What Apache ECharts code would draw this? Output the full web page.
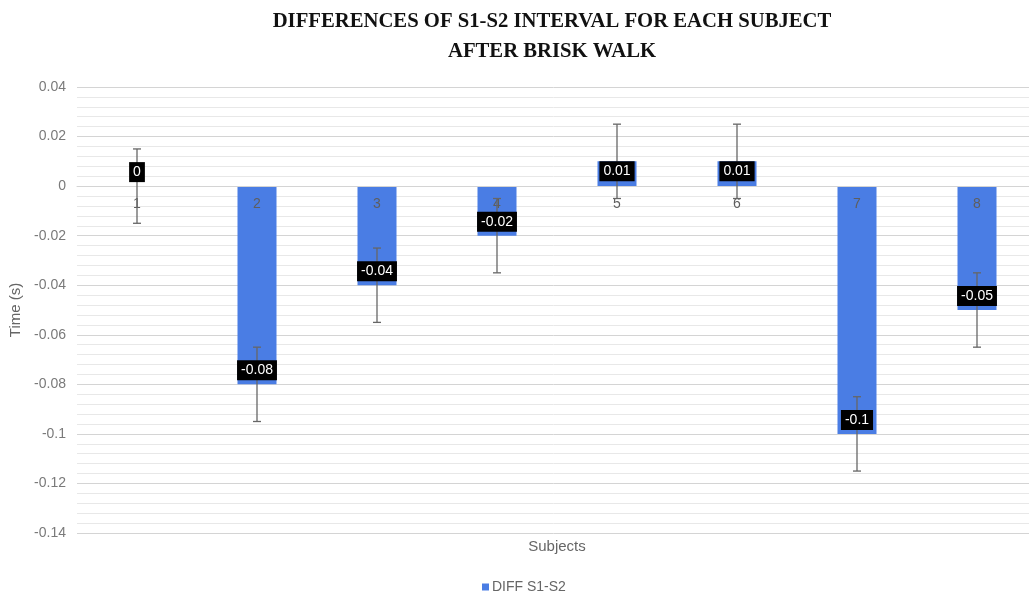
<!DOCTYPE html>
<html>
<head>
<meta charset="utf-8">
<script src="https://cdn.jsdelivr.net/npm/echarts@6/dist/echarts.min.js"></script>
<style>
  html, body { margin: 0; padding: 0; background: #fff; }
  #chart { width: 1029px; height: 594px; }
</style>
</head>
<body>
<div id="chart"></div>
<script>
const subjects = ['1', '2', '3', '4', '5', '6', '7', '8'];
const diffValues = [0, -0.08, -0.04, -0.02, 0.01, 0.01, -0.1, -0.05];
const errorValues = [0.015, 0.015, 0.015, 0.015, 0.015, 0.015, 0.015, 0.015];

const BAR_COLOR = '#4a7de4';
const AXIS_GRAY = '#7a7a7a';

// Excel-style "inside end" labels; a zero bar gets its label just above the axis
const labelFor = (value) => {
  if (value < 0) return { position: 'insideBottom', distance: 4 };
  if (value > 0) return { position: 'insideTop', distance: 0 };
  return { position: 'top', distance: 4 };
};

const chart = echarts.init(document.getElementById('chart'));
chart.setOption({
  backgroundColor: '#fff',
  animation: false,
  title: {
    text: 'DIFFERENCES OF S1-S2 INTERVAL FOR EACH SUBJECT\nAFTER BRISK WALK',
    left: 547,
    textAlign: 'center',
    top: 2,
    textStyle: {
      fontFamily: 'Liberation Serif',
      fontWeight: 'bold',
      fontSize: 20.7,
      color: '#111',
      lineHeight: 30,
    },
  },
  legend: {
    bottom: 0,
    left: 482,
    padding: 0,
    itemWidth: 7,
    itemHeight: 7,
    itemGap: 3,
    icon: 'rect',
    textStyle: { color: '#666', fontSize: 14, fontFamily: 'Liberation Sans', padding: [0, 0, 0, -2] },
    data: ['DIFF S1-S2'],
  },
  grid: { left: 77, top: 87, width: 960, height: 446, containLabel: false, outerBoundsMode: 'none' },
  xAxis: {
    type: 'category',
    data: subjects,
    // the axis sits at y = 0, like the Excel original
    offset: -347,
    name: 'Subjects',
    nameLocation: 'middle',
    nameGap: 353,
    nameTextStyle: { color: '#666', fontSize: 15, fontFamily: 'Liberation Sans' },
    axisLine: { onZero: false, lineStyle: { color: '#d4d4d4' } },
    axisTick: { show: false },
    axisLabel: { color: '#5e5e5e', fontSize: 14, margin: 11, fontFamily: 'Liberation Sans' },
    z: 3,
  },
  yAxis: {
    type: 'value',
    name: 'Time (s)',
    nameLocation: 'middle',
    nameGap: 52,
    nameTextStyle: { color: '#666', fontSize: 15, fontFamily: 'Liberation Sans' },
    min: -0.14,
    max: 0.04,
    interval: 0.02,
    axisLine: { show: false },
    axisTick: { show: false },
    axisLabel: {
      color: AXIS_GRAY,
      fontSize: 14,
      margin: 11,
      fontFamily: 'Liberation Sans',
      formatter: (v) => String(Math.round(v * 100) / 100),
    },
    splitLine: { lineStyle: { color: '#d4d4d4', width: 1 } },
    minorTick: { show: false, splitNumber: 5 },
    minorSplitLine: { show: true, lineStyle: { color: '#e8e8e8', width: 1 } },
  },
  series: [
    {
      name: 'DIFF S1-S2',
      type: 'bar',
      barWidth: 39,
      itemStyle: { color: BAR_COLOR },
      data: diffValues,
      z: 2,
    },
    {
      name: 'error',
      type: 'custom',
      z: 4,
      silent: true,
      data: diffValues.map((value, i) => [i, value - errorValues[i], value + errorValues[i]]),
      renderItem: (params, api) => {
        const lo = api.coord([api.value(0), api.value(1)]);
        const hi = api.coord([api.value(0), api.value(2)]);
        const half = 4;
        const style = { stroke: '#666', lineWidth: 1.3 };
        return {
          type: 'group',
          children: [
            { type: 'line', shape: { x1: lo[0], y1: lo[1], x2: hi[0], y2: hi[1] }, style },
            { type: 'line', shape: { x1: lo[0] - half, y1: lo[1], x2: lo[0] + half, y2: lo[1] }, style },
            { type: 'line', shape: { x1: hi[0] - half, y1: hi[1], x2: hi[0] + half, y2: hi[1] }, style },
          ],
        };
      },
    },
    {
      // invisible copy of the bars that only carries the data labels, drawn above the error bars
      name: 'labels',
      type: 'bar',
      barWidth: 39,
      barGap: '-100%',
      silent: true,
      z: 5,
      itemStyle: { color: 'rgba(0,0,0,0)' },
      data: diffValues.map((value) => ({ value, label: labelFor(value) })),
      label: {
        show: true,
        color: '#fff',
        fontSize: 14,
        fontFamily: 'Liberation Sans',
        backgroundColor: '#000',
        padding: [3, 4, 3, 4],
        formatter: (p) => String(p.value),
      },
    },
  ],
});
</script>
</body>
</html>
